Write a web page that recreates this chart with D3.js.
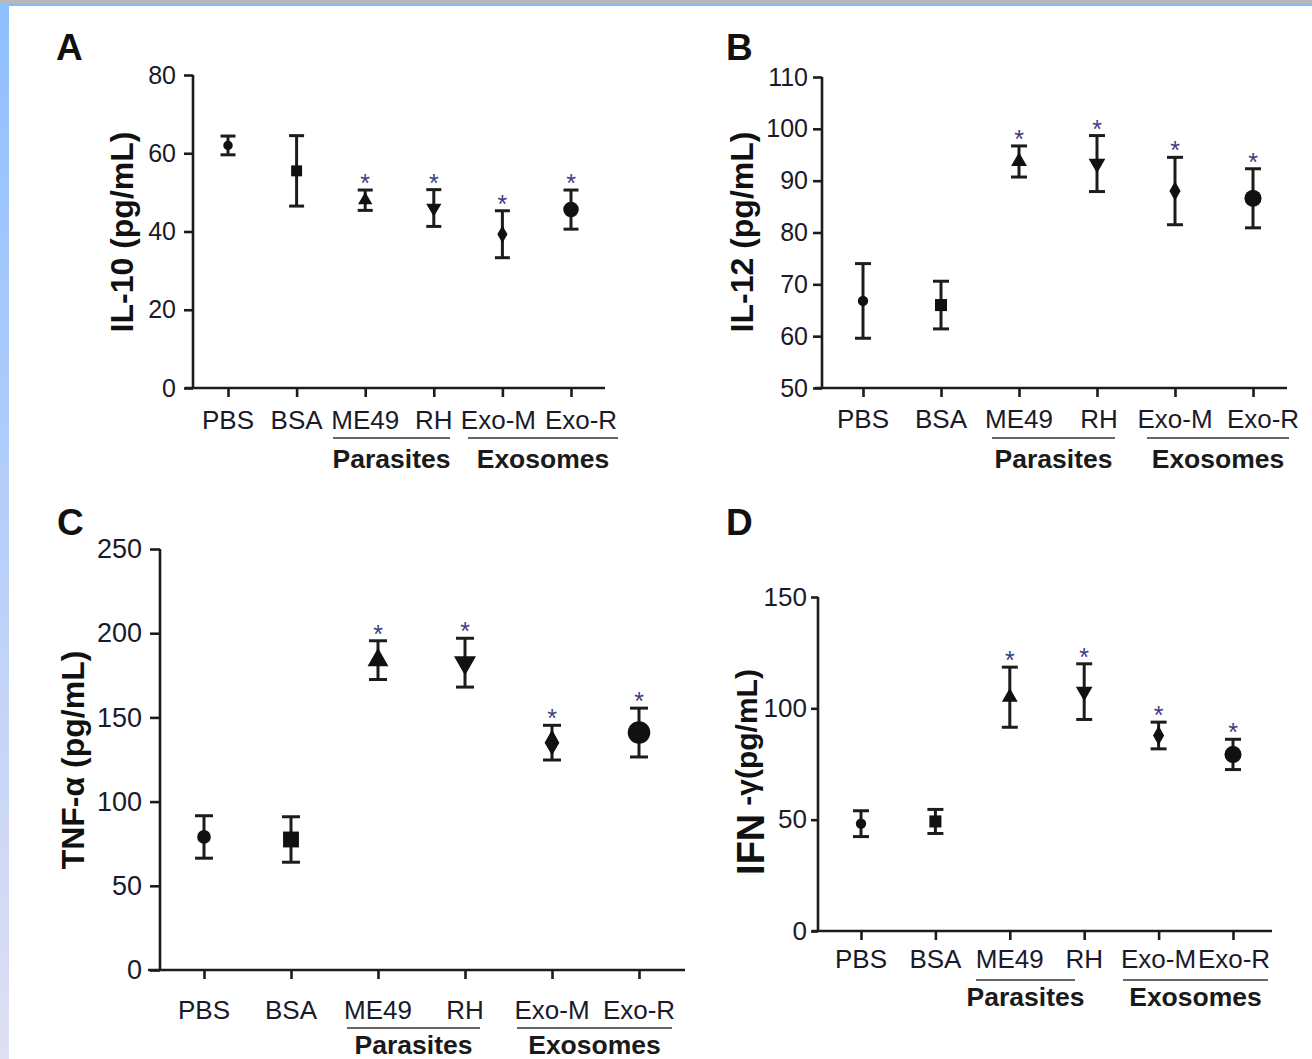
<!DOCTYPE html>
<html><head><meta charset="utf-8">
<script src="https://cdn.jsdelivr.net/npm/d3@7"></script>
<style>
html,body{margin:0;padding:0;background:#fff;}
svg{display:block;}
text{font-family:"Liberation Sans",Arial,sans-serif;}
</style></head>
<body>
<svg id="chart" width="1312" height="1059"></svg>
<script>
// ---------- data ----------
const categories = ["PBS","BSA","ME49","RH","Exo-M","Exo-R"];
const markerTypes = ["circle","square","triUp","triDown","diamond","bigCircle"];

const il10Mean = [62.0, 55.5, 48.0, 46.0, 39.3, 45.6];
const il10Err  = [2.4, 9.0, 2.6, 4.7, 6.0, 5.0];
const il10Star = [false,false,true,true,true,true];
const il10Ticks = [0,20,40,60,80];

const il12Mean = [66.8, 66.0, 93.7, 93.3, 88.0, 86.6];
const il12Err  = [7.2, 4.6, 3.0, 5.4, 6.5, 5.7];
const il12Star = [false,false,true,true,true,true];
const il12Ticks = [50,60,70,80,90,100,110];

const tnfMean = [79.0, 77.5, 184.0, 182.5, 135.0, 141.0];
const tnfErr  = [12.6, 13.5, 11.5, 14.5, 10.3, 14.5];
const tnfStar = [false,false,true,true,true,true];
const tnfTicks = [0,50,100,150,200,250];

const ifnMean = [48.2, 49.2, 105.0, 107.5, 87.8, 79.3];
const ifnErr  = [5.8, 5.4, 13.5, 12.5, 6.0, 6.8];
const ifnStar = [false,false,true,true,true,true];
const ifnTicks = [0,50,100,150];

const groupLabels = ["Parasites","Exosomes"];

// ---------- layout ----------
const panels = [
  {letter:"A", lx:56, ly:60, mean:il10Mean, err:il10Err, star:il10Star, ticks:il10Ticks, dom:[0,80],
   ax:193, yTop:75, yBot:388, x0:228, x1:571, xl:185, xr:605, tickFs:25, tickLen:9, tickPad:8,
   catFs:26, catY:429, catNudge:[0,0,0,0,-4,10],
   gLineY:438, gTextY:468, g1:[333,450], g2:[468,618], cap:15, ms:1.0,
   title:"IL-10 (pg/mL)", tx:133, ty:232, tfs:32},
  {letter:"B", lx:726, ly:60, mean:il12Mean, err:il12Err, star:il12Star, ticks:il12Ticks, dom:[50,110],
   ax:822, yTop:77, yBot:388, x0:863, x1:1253, xl:815, xr:1287, tickFs:25, tickLen:9, tickPad:5,
   catFs:26, catY:428, catNudge:[0,0,0,2,0,10],
   gLineY:438, gTextY:468, g1:[992,1115], g2:[1147,1289], cap:16, ms:1.1,
   title:"IL-12 (pg/mL)", tx:753, ty:232, tfs:32},
  {letter:"C", lx:57, ly:535, mean:tnfMean, err:tnfErr, star:tnfStar, ticks:tnfTicks, dom:[0,250],
   ax:160, yTop:549, yBot:970, x0:204, x1:639, xl:148, xr:685, tickFs:27, tickLen:10, tickPad:8,
   catFs:26, catY:1019, catNudge:[0,0,0,0,0,0],
   gLineY:1028, gTextY:1054, g1:[347,480], g2:[517,672], cap:18, ms:1.45,
   title:"TNF-α (pg/mL)", tx:84, ty:760, tfs:32},
  {letter:"D", lx:726, ly:535, mean:ifnMean, err:ifnErr, star:ifnStar, ticks:ifnTicks, dom:[0,150],
   ax:818, yTop:597, yBot:931, x0:861, x1:1233, xl:812, xr:1272, tickFs:26, tickLen:7, tickPad:4,
   catFs:26, catY:968, catNudge:[0,0,0,0,0,1],
   gLineY:980, gTextY:1006, g1:[976,1075], g2:[1123,1268], cap:16, ms:1.1,
   title:null, tx:764, ty:772, tfs:32}
];

const svg = d3.select("#chart");

// background decorations
const defs = svg.append("defs");
const grad = defs.append("linearGradient").attr("id","lg").attr("x1",0).attr("y1",0).attr("x2",0).attr("y2",1);
grad.append("stop").attr("offset","0%").attr("stop-color","#8ebfff");
grad.append("stop").attr("offset","100%").attr("stop-color","#dfdff3");
svg.append("rect").attr("x",0).attr("y",0).attr("width",1312).attr("height",1059).attr("fill","#fff");
svg.append("rect").attr("x",0).attr("y",0).attr("width",9).attr("height",1059).attr("fill","url(#lg)");
svg.append("rect").attr("x",0).attr("y",0).attr("width",1312).attr("height",4).attr("fill","#b8b8b8");
svg.append("rect").attr("x",9).attr("y",4).attr("width",1303).attr("height",2).attr("fill","#8ab8f0");

const ink = "#1c1c1c";

function marker(type, s){
  if(type==="circle") return d3.symbol().type(d3.symbolCircle).size(70*s*s)();
  if(type==="square") return d3.symbol().type(d3.symbolSquare).size(120*s*s)();
  if(type==="triUp") return d3.symbol().type(d3.symbolTriangle).size(90*s*s)();
  if(type==="triDown") return d3.symbol().type(d3.symbolTriangle).size(100*s*s)();
  if(type==="diamond") return d3.symbol().type(d3.symbolDiamond).size(90*s*s)();
  return d3.symbol().type(d3.symbolCircle).size(190*s*s)();
}

panels.forEach(p=>{
  const g = svg.append("g");
  const y = d3.scaleLinear().domain(p.dom).range([p.yBot,p.yTop]);
  const x = d3.scalePoint().domain(categories).range([p.x0,p.x1]);

  // panel letter
  g.append("text").attr("x",p.lx).attr("y",p.ly).attr("font-size",37).attr("font-weight","bold")
    .attr("fill","#111").text(p.letter);

  // y axis
  const ya = g.append("g").attr("transform",`translate(${p.ax},0)`)
    .call(d3.axisLeft(y).tickValues(p.ticks).tickSize(p.tickLen).tickPadding(p.tickPad).tickFormat(d3.format("d")));
  ya.select(".domain").attr("stroke",ink).attr("stroke-width",2.6).attr("d",`M0,${p.yTop}V${p.yBot}`);
  ya.selectAll(".tick line").attr("stroke",ink).attr("stroke-width",2.6);
  ya.selectAll(".tick text").attr("font-size",p.tickFs).attr("fill","#1a1a2a")
    .attr("font-family","'Liberation Sans',Arial,sans-serif");

  // x axis
  const xa = g.append("g").attr("transform",`translate(0,${p.yBot})`)
    .call(d3.axisBottom(x).tickSize(9).tickFormat(""));
  xa.select(".domain").attr("stroke",ink).attr("stroke-width",2.6).attr("d",`M${p.xl},0H${p.xr}`);
  xa.selectAll(".tick line").attr("stroke",ink).attr("stroke-width",2.6);

  // category labels
  g.selectAll(".cat").data(categories).enter().append("text")
    .attr("x",(d,i)=>x(d)+p.catNudge[i]).attr("y",p.catY).attr("text-anchor","middle")
    .attr("font-size",p.catFs).attr("fill","#1a1a2a").text(d=>d);

  // group lines and labels
  [p.g1,p.g2].forEach((r,i)=>{
    g.append("line").attr("x1",r[0]).attr("x2",r[1]).attr("y1",p.gLineY).attr("y2",p.gLineY)
      .attr("stroke","#333").attr("stroke-width",1.6);
    g.append("text").attr("x",(r[0]+r[1])/2).attr("y",p.gTextY).attr("text-anchor","middle")
      .attr("font-size",26.5).attr("font-weight","bold").attr("fill","#1a1a1a").text(groupLabels[i]);
  });

  // error bars
  const data = categories.map((c,i)=>({c, m:p.mean[i], e:p.err[i], s:p.star[i], t:markerTypes[i]}));
  const eb = g.selectAll(".eb").data(data).enter().append("g");
  eb.append("line").attr("x1",d=>x(d.c)).attr("x2",d=>x(d.c))
    .attr("y1",d=>y(d.m+d.e)).attr("y2",d=>y(d.m-d.e)).attr("stroke",ink).attr("stroke-width",3);
  eb.append("line").attr("x1",d=>x(d.c)-p.cap/2).attr("x2",d=>x(d.c)+p.cap/2)
    .attr("y1",d=>y(d.m+d.e)).attr("y2",d=>y(d.m+d.e)).attr("stroke",ink).attr("stroke-width",3);
  eb.append("line").attr("x1",d=>x(d.c)-p.cap/2).attr("x2",d=>x(d.c)+p.cap/2)
    .attr("y1",d=>y(d.m-d.e)).attr("y2",d=>y(d.m-d.e)).attr("stroke",ink).attr("stroke-width",3);
  eb.append("path").attr("d",d=>marker(d.t,p.ms))
    .attr("transform",d=>`translate(${x(d.c)},${y(d.m)})${d.t==="triDown"?" rotate(180)":""}`)
    .attr("fill","#111");
  eb.filter(d=>d.s).append("text").attr("x",d=>x(d.c)).attr("y",d=>y(d.m+d.e)+2)
    .attr("text-anchor","middle").attr("font-size",25).attr("fill","#3d3d85").text("*");

  // y title
  if(p.title){
    g.append("text").attr("transform",`translate(${p.tx},${p.ty}) rotate(-90)`)
      .attr("text-anchor","middle").attr("font-size",p.tfs).attr("font-weight","bold")
      .attr("fill","#111").text(p.title);
  } else {
    const t = g.append("text").attr("transform",`translate(${p.tx},${p.ty}) rotate(-90)`)
      .attr("text-anchor","middle").attr("font-weight","bold").attr("fill","#111");
    t.append("tspan").attr("font-size",38).text("IFN");
    t.append("tspan").attr("font-size",30).attr("dx",8).attr("dy",-7).text("-γ(pg/mL)");
  }
});
</script>
</body></html>
